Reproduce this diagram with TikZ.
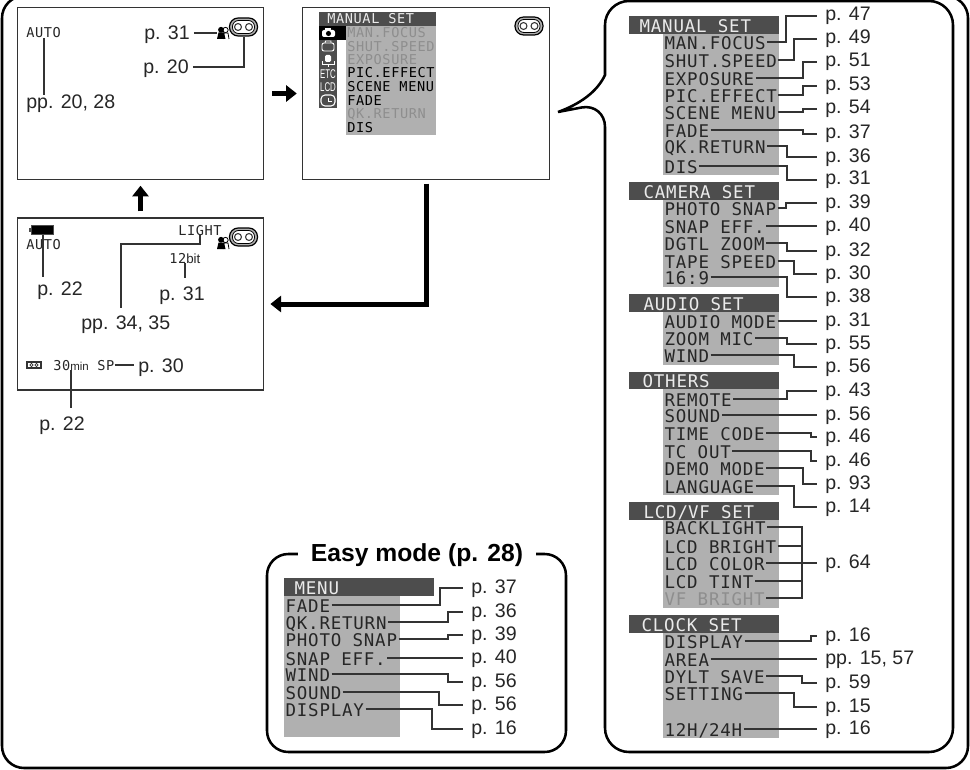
\documentclass[tikz,border=0pt]{standalone}
\usepackage{fontspec}
\usepackage{tikz}
\usetikzlibrary{arrows.meta}
\setmainfont{Liberation Sans}
\newfontfamily\menufont[LetterSpace=4.5]{DejaVu Sans Mono}

\definecolor{inkdark}{HTML}{333333}
\definecolor{menugray}{HTML}{B0B0B0}
\definecolor{menudark}{HTML}{4D4D4D}
\definecolor{menuoff}{HTML}{8E8E8E}

\tikzset{
  panel/.style={draw=black, line width=1.9pt},
  screen/.style={draw=inkdark, line width=.8pt, inner sep=0pt, minimum width=185pt, minimum height=128.5pt},
  lead/.style={draw=inkdark, line width=1.5pt},
  bigarrow/.style={line width=3.75pt, -{Triangle[length=8pt,width=12pt]}},
  pagelabel/.style={anchor=west, inner ysep=0pt, inner xsep=6pt, text height=10.5pt, text depth=3pt, font=\fontsize{14.7}{16}\selectfont, text=black!85},
  screenlabel/.style={pagelabel, inner xsep=3pt, text depth=0pt},
  menuitem/.style={anchor=west, inner ysep=0pt, inner xsep=1pt, text height=11pt, text depth=0pt, font=\menufont\fontsize{13.1}{15}\selectfont, text=black!85},
  menuhead/.style={menuitem, text=white!92!black},
  smallitem/.style={anchor=west, inner sep=0pt, text height=7.5pt, text depth=0pt, font=\menufont\fontsize{10.2}{12}\selectfont, text=black!85},
  smallhead/.style={smallitem, text=white!92!black},
  tabitem/.style={inner sep=0pt, text=white, font=\fontsize{9.5}{10}\selectfont},
  tapeicon/.pic={
    \node[draw=black, fill=menugray, line width=.9pt, rounded corners=6.5pt, minimum width=21pt, minimum height=13.5pt, inner sep=0pt] (-box) {};
    \draw[draw=black, fill=white, line width=.6pt, rounded corners=4.5pt] (-11,-6.5) rectangle (11,6.5);
    \draw[inkdark, line width=.8pt] (-5.5,0) circle (2.6pt) (5.5,0) circle (2.6pt);
  },
  personicon/.pic={
    \node[inner sep=0pt, minimum width=9pt, minimum height=9pt] (-box) {};
    \draw[black, fill=white, line width=.6pt] (2.5,-3) circle (2pt);
    \draw[black, fill=white, line width=.6pt] (0,6) -- (1,0) -- (5,0) -- (6,6);
    \fill[black] (-2,-3.2) circle (2.2pt);
    \fill[black] (-6,6) -- (-4.5,-.5) -- (1,-.5) -- (2.5,6) -- cycle;
  }
}

\begin{document}
\begin{tikzpicture}[x=.75pt, y=-.75pt]
  \useasboundingbox (0,0) rectangle (970,770);

  % Outer frame
  \draw[panel, rounded corners=16.5pt] (2,-4) rectangle (968,768);

  % First screen
  \node[screen] (autoscreen) at (140.5,93.5) {};
  \node[smallitem] (auto1) at (26,33) {AUTO};
  \node[screenlabel] (pp1) at (22,102) {pp. 20, 28};
  \node[screenlabel] (p31a) at (140,33) {p. 31};
  \node[screenlabel] (p20a) at (139,67) {p. 20};
  \pic (tape1) at (243.5,27) {tapeicon};
  \pic (person1) at (223,33) {personicon};
  \draw[lead] (auto1.south) -- (auto1.south |- pp1.north);
  \draw[lead] (p31a.east) -- (p31a.east -| person1-box.west);
  \draw[lead] (p20a.east) -| (tape1-box.south);

  % Second screen
  \node[screen] (menuscreen) at (426,93.5) {};
  \fill[menudark] (319,12) rectangle (436,26);
  \fill[menugray] (346,26) rectangle (436,135);
  \fill[menudark] (319,26) rectangle (337,108);
  \fill[black] (319,26) rectangle (346,40);
  \node[smallhead] (menutitle) at (327,19) {MANUAL SET};
  \foreach \nm/\txt/\yy/\col in {man/MAN.FOCUS/33/menuoff, shut/SHUT.SPEED/47/menuoff, expo/EXPOSURE/60/menuoff,
      pic/PIC.EFFECT/73/black, scene/SCENE MENU/87/black, fade/FADE/101/black,
      qk/QK.RETURN/114/menuoff, dis/DIS/128/black}
    \node[smallitem, text=\col] (small-\nm) at (347,\yy) {\txt};
  % Tabs
  \fill[white, rounded corners=1.5pt] (322,30) rectangle (335,37);
  \fill[white] (325,28.5) rectangle (331,31);
  \fill[black] (328.5,33.5) circle (1.9pt);
  \draw[white, line width=.7pt, rounded corners=1.5pt] (322,43) rectangle (334,51);
  \draw[white, line width=.7pt] (325,43) -- (325.5,41) -- (331,41) -- (331,43);
  \fill[white, rounded corners=1pt] (325,55) rectangle (331,62);
  \draw[white, line width=.7pt] (322,61) -- (322,64) -- (334,64) -- (334,61) (328,64) -- (328,67);
  \node[tabitem] (tabetc) at (328,74) {\scalebox{.62}[1]{ETC}};
  \node[tabitem] (tablcd) at (328,87) {\scalebox{.62}[1]{LCD}};
  \draw[white, line width=.8pt, rounded corners=3pt] (321,95) rectangle (335,106);
  \draw[white, line width=.7pt] (328,98) -- (328,101) -- (332,101);
  \pic (tape2) at (529,26) {tapeicon};

  % Third screen
  \node[screen, minimum height=129pt] (lightscreen) at (140.5,304) {};
  \node[draw=menudark, fill=black, line width=.9pt, inner sep=0pt, minimum width=17pt, minimum height=7pt] (battery) at (42.5,230) {};
  \fill[menudark] (29,228) rectangle (31,232);
  \node[smallitem] (auto3) at (26,244) {AUTO};
  \node[screenlabel] (p22a) at (33,288) {p. 22};
  \node[smallitem] (lightmark) at (178,230) {LIGHT};
  \node[screenlabel] (pp3) at (77,322) {pp. 34, 35};
  \node[smallitem] (bits) at (169,258) {12{\rmfamily\fontsize{10}{12}\selectfont bit}};
  \node[screenlabel] (p31c) at (155,293) {p. 31};
  \pic (tape3) at (243.5,237) {tapeicon};
  \pic (person3) at (223,243) {personicon};
  \draw[inkdark, line width=.8pt] (27,362) rectangle (41,368);
  \draw[inkdark, line width=.5pt] (31.5,365) circle (1.2pt) (36.5,365) circle (1.2pt);
  \node[smallitem] (remain) at (53,365) {30{\rmfamily\fontsize{8.6}{12}\selectfont min}};
  \node[smallitem] (speed) at (97,365) {SP};
  \node[screenlabel] (p30a) at (134,365) {p. 30};
  \node[screenlabel] (p22b) at (35,423) {p. 22};
  \draw[lead, shorten >=3pt] (battery.south) -- (battery.south |- p22a.north);
  \draw[lead, shorten >=5pt] (lightmark.south -| 200,0) -- (200,244) -| (pp3.north -| 121,0);
  \draw[lead, shorten >=6pt] (bits.south) -- (bits.south |- p31c.north);
  \draw[lead] (speed.east) -- (p30a.west);
  \draw[lead, shorten >=6pt] (remain.south) -- (remain.south |- p22b.north);

  % Arrows
  \draw[bigarrow, shorten <=6pt, shorten >=4pt] (autoscreen.east) -- (menuscreen.west);
  \draw[bigarrow, shorten <=3pt, shorten >=4.5pt] (menuscreen.south) |- (lightscreen.east);
  \draw[bigarrow, shorten <=4.5pt, shorten >=4.5pt] (lightscreen.north) -- (autoscreen.south);

  % Easy mode
  \draw[panel, rounded corners=16pt] (267,554) rectangle (566,752);
  \node[fill=white, inner ysep=2pt, inner xsep=10pt, font=\fontsize{18.5}{20}\selectfont\bfseries] (easytitle) at (417,555) {Easy mode (p. 28)};
  \fill[menudark] (284,578) rectangle (434,596);
  \fill[menugray] (284,596) rectangle (400,737);
  \node[menuhead] (easyhead) at (293,587) {MENU};
  \foreach \nm/\txt/\yy/\jx/\pg/\py in {fade/FADE/605/440/p. 37/588, qk/QK.RETURN/622/448/p. 36/612,
      photo/PHOTO SNAP/639/448/p. 39/635, snap/SNAP EFF./658/448/p. 40/658, wind/WIND/674/448/p. 56/682,
      sound/SOUND/692/439/p. 56/705, disp/DISPLAY/709/432/p. 16/729} {
    \node[menuitem] (easy-\nm) at (284,\yy) {\txt};
    \node[pagelabel] (easyp-\nm) at (463,\py) {\pg};
    \draw[lead] (easy-\nm.east) -- (\jx,\yy) -- (\jx,\py) -- (easyp-\nm.west);
  }

  % Big menu panel
  \draw[panel, rounded corners=18pt] (605,75) -- (605,1) -- (953,1) -- (953,752) -- (605,752) -- (605,103)
    [sharp corners] -- (558,112) .. controls (580,104) and (597,92) .. (605,75) -- cycle;

  % Menu blocks
  \fill[menugray] (663,34) rectangle (779,175);
  \fill[menugray] (663,200) rectangle (779,287);
  \fill[menugray] (663,312) rectangle (779,365);
  \fill[menugray] (663,389) rectangle (779,495);
  \fill[menugray] (663,520) rectangle (779,608);
  \fill[menugray] (663,633) rectangle (779,738);
  \foreach \nm/\txt/\xx/\ya/\yb in {head1/MANUAL SET/638/16/34, head2/CAMERA SET/642/182/200, head3/AUDIO SET/642/294/312,
      head4/OTHERS/641/372/389, head5/LCD\slash VF SET/642/502/520, head6/CLOCK SET/640/615/633} {
    \fill[menudark] (629,\ya) rectangle (779,\yb);
    \node[menuhead] (\nm) at (\xx,{(\ya+\yb)/2}) {\txt};
  }

  % Menu rows
  \foreach \nm/\txt/\yy/\jx/\pg/\py in {manfocus/MAN.FOCUS/42/786/p. 47/16, shutspeed/SHUT.SPEED/60/794/p. 49/39,
      exposure/EXPOSURE/78/803/p. 51/62, piceffect/PIC.EFFECT/95/803/p. 53/86, scenemenu/SCENE MENU/112/803/p. 54/109,
      fade/FADE/130/803/p. 37/134, qkreturn/QK.RETURN/146/787/p. 36/157, dis/DIS/166/787/p. 31/180,
      photosnap/PHOTO SNAP/208/786/p. 39/203, snapeff/SNAP EFF./226/786/p. 40/226, dgtlzoom/DGTL ZOOM/243/787/p. 32/251,
      tapespeed/TAPE SPEED/261/794/p. 30/274, wide/16:9/277/787/p. 38/297,
      audiomode/AUDIO MODE/321/787/p. 31/321, zoommic/ZOOM MIC/338/787/p. 55/344, wind/WIND/355/794/p. 56/367,
      remote/REMOTE/399/787/p. 43/391, sound/SOUND/415/787/p. 56/415, timecode/TIME CODE/433/811/p. 46/437,
      tcout/TC OUT/451/811/p. 46/461, demomode/DEMO MODE/468/803/p. 93/484, language/LANGUAGE/486/794/p. 14/507,
      display/DISPLAY/641/811/p. 16/636, area/AREA/659/811/{pp. 15, 57}/659, dyltsave/DYLT SAVE/676/802/p. 59/683,
      setting/SETTING/693/794/p. 15/707, clockmode/12H\slash 24H/729/794/p. 16/729} {
    \node[menuitem] (\nm) at (663,\yy) {\txt};
    \node[pagelabel] (p-\nm) at (817,\py) {\pg};
    \draw[lead] (\nm.east) -- (\jx,\yy) -- (\jx,\py) -- (p-\nm.west);
  }

  % LCD rows share one label
  \node[pagelabel] (p-lcd) at (817,563) {p. 64};
  \foreach \nm/\txt/\yy/\col in {backlight/BACKLIGHT/527/black!85, lcdbright/LCD BRIGHT/546/black!85, lcdcolor/LCD COLOR/563/black!85,
      lcdtint/LCD TINT/581/black!85, vfbright/VF BRIGHT/598/menuoff} {
    \node[menuitem, text=\col] (\nm) at (663,\yy) {\txt};
    \draw[lead] (\nm.east) -- (802,\yy);
  }
  \draw[lead, line cap=rect] (802,527) -- (802,598);
  \draw[lead] (802,563) -- (p-lcd.west);
\end{tikzpicture}
\end{document}
